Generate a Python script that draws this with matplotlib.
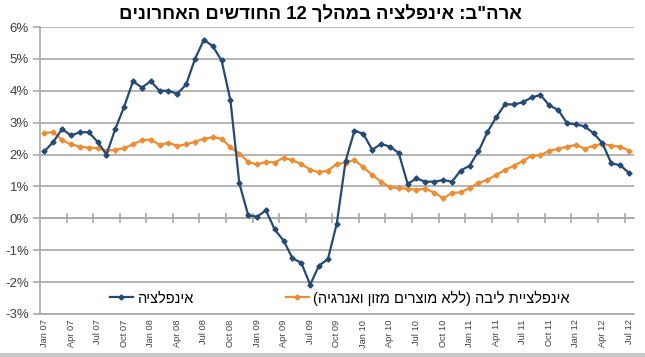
import numpy as np
import matplotlib
matplotlib.use('Agg')
import matplotlib.pyplot as plt
from matplotlib.lines import Line2D

plt.rcParams['font.family'] = ['Liberation Sans', 'DejaVu Sans']

title = 'ארה"ב: אינפלציה במהלך 12 החודשים האחרונים'
name_cpi = 'אינפלציה'
name_core = 'אינפלציית ליבה (ללא מוצרים מזון ואנרגיה)'

# monthly, Jan 07 .. Jul 12 (percent, yoy)
cpi = [2.1, 2.4, 2.8, 2.6, 2.7, 2.7, 2.4, 2.0, 2.8, 3.5, 4.3, 4.1,
       4.3, 4.0, 4.0, 3.9, 4.2, 5.0, 5.6, 5.4, 4.95, 3.7, 1.1, 0.1,
       0.05, 0.25, -0.35, -0.7, -1.25, -1.4, -2.08, -1.48, -1.28, -0.17, 1.8, 2.75,
       2.65, 2.15, 2.33, 2.25, 2.05, 1.08, 1.25, 1.15, 1.15, 1.2, 1.15, 1.5,
       1.65, 2.1, 2.7, 3.17, 3.58, 3.57, 3.64, 3.79, 3.87, 3.54, 3.4, 2.98,
       2.95, 2.88, 2.67, 2.35, 1.72, 1.67, 1.42]
core = [2.68, 2.7, 2.45, 2.32, 2.25, 2.22, 2.2, 2.12, 2.15, 2.2, 2.32, 2.45,
        2.47, 2.3, 2.37, 2.27, 2.32, 2.4, 2.5, 2.54, 2.5, 2.23, 2.03, 1.77,
        1.69, 1.77, 1.75, 1.9, 1.82, 1.7, 1.53, 1.44, 1.5, 1.7, 1.75, 1.83,
        1.6, 1.36, 1.15, 0.97, 0.95, 0.93, 0.9, 0.93, 0.81, 0.63, 0.79, 0.82,
        0.95, 1.11, 1.21, 1.36, 1.52, 1.65, 1.8, 1.96, 1.98, 2.12, 2.18, 2.25,
        2.3, 2.18, 2.28, 2.33, 2.28, 2.25, 2.12]
months = ['Jan', 'Apr', 'Jul', 'Oct']
years = ['07', '08', '09', '10', '11', '12']
tick_labels = [m + ' ' + y for y in years for m in months][:23]


def rtl(s):
    # matplotlib has no bidi, so flip Hebrew for display
    mirror = str.maketrans('()', ')(')
    out = []
    for w in reversed(s.split(' ')):
        out.append(w if w.isdigit() else w[::-1].translate(mirror))
    return ' '.join(out)


x = np.arange(len(cpi))
blue = '#254a74'
orange = '#ec8d33'
grid_c = '#a8a8a8'

fig = plt.figure(figsize=(6.45, 3.57), dpi=100)
ax = fig.add_axes([40 / 645, 1 - 314 / 357, 593.5 / 645, 287 / 357])

ax.plot(x, core, color=orange, lw=1.6, marker='D', ms=2.6, zorder=3)
ax.plot(x, cpi, color=blue, lw=1.6, marker='D', ms=2.6, zorder=4)

ax.set_xlim(-0.5, len(cpi) - 0.5)
ax.set_ylim(-3, 6)
ax.set_yticks(range(-3, 7))
ax.set_yticklabels(['%d%%' % v for v in range(-3, 7)], fontsize=9.5, color='#404040')
ax.yaxis.grid(True, color=grid_c, lw=1.2)
ax.set_axisbelow(True)
ax.tick_params(axis='y', length=5, width=1.2, color=grid_c, pad=3)

ax.set_xticks(x[::3])
ax.set_xticklabels(tick_labels, rotation=90, fontsize=6.7, color='#404040')
ax.tick_params(axis='x', length=0, pad=4)

for s in ['top', 'right']:
    ax.spines[s].set_visible(False)
for s in ['left', 'bottom']:
    ax.spines[s].set_color(grid_c)
    ax.spines[s].set_linewidth(1.2)

# category axis crossing at 0%
zero = ax.secondary_xaxis(3 / 9)
zero.spines['bottom'].set_color(grid_c)
zero.spines['bottom'].set_linewidth(1.2)
zero.set_xticks(np.arange(2.5, len(cpi) - 1, 3))
zero.set_xticklabels([])
zero.tick_params(direction='inout', length=7, width=1.2, color=grid_c)

handles = [Line2D([], [], color=blue, lw=1.6, marker='D', ms=2.6),
           Line2D([], [], color=orange, lw=1.6, marker='D', ms=2.6)]
ax.legend(handles, [rtl(name_cpi), rtl(name_core)], ncol=2, frameon=False,
          loc='center', bbox_to_anchor=(0.505, 0.056), fontsize=10.5,
          handlelength=1.6, handletextpad=0.3, columnspacing=6.3)

fig.text(0.497, 0.962, rtl(title), ha='center', va='center',
         fontsize=13.3, fontweight='bold')

fig.add_artist(Line2D([0, 1], [0.006, 0.006], color='#c8c8c8', lw=3))

fig.savefig('out.png', dpi=100)
